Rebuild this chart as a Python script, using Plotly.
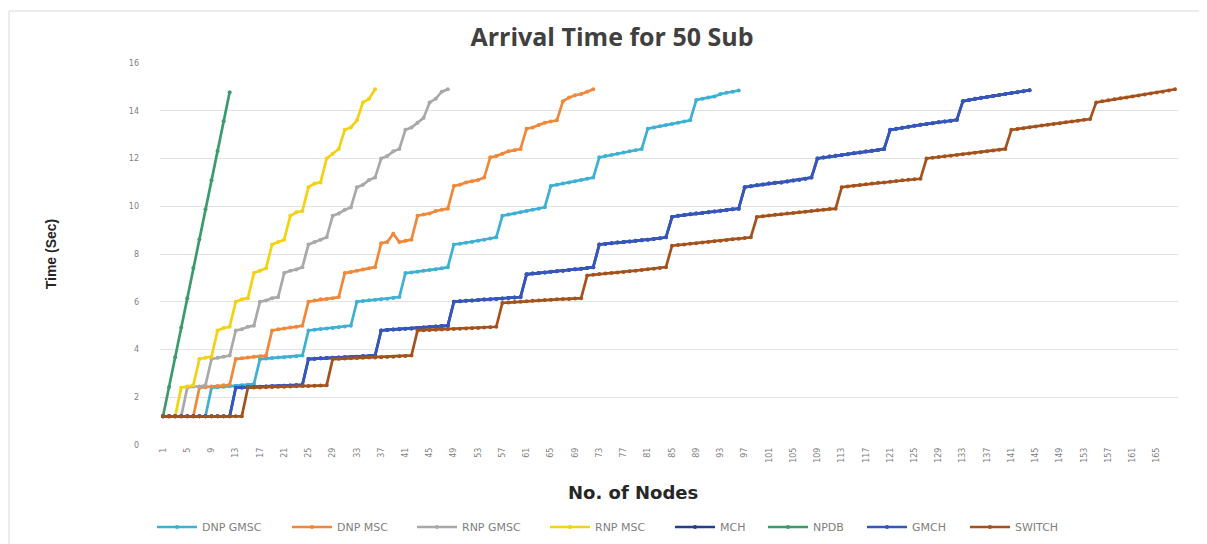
import plotly.graph_objects as go

# ---------------- data ----------------
series_names = ["DNP GMSC", "DNP MSC", "RNP GMSC", "RNP MSC", "MCH", "NPDB", "GMCH", "SWITCH"]

dnp_gmsc = [
    1.2, 1.2, 1.2, 1.2, 1.2, 1.2, 1.2, 1.2,
    2.4, 2.42, 2.44, 2.46, 2.48, 2.5, 2.52, 2.55,
    3.6, 3.62, 3.64, 3.66, 3.68, 3.7, 3.72, 3.75,
    4.8, 4.83, 4.86, 4.88, 4.9, 4.93, 4.96, 5.0,
    6.0, 6.03, 6.06, 6.08, 6.1, 6.13, 6.16, 6.2,
    7.2, 7.23, 7.26, 7.3, 7.33, 7.36, 7.4, 7.45,
    8.4, 8.43, 8.47, 8.5, 8.55, 8.6, 8.65, 8.7,
    9.6, 9.65, 9.7, 9.75, 9.8, 9.85, 9.9, 9.96,
    10.85, 10.9, 10.95, 11.0, 11.05, 11.1, 11.15, 11.2,
    12.05, 12.1, 12.15, 12.2, 12.25, 12.3, 12.35, 12.4,
    13.25, 13.3, 13.35, 13.4, 13.45, 13.5, 13.55, 13.6,
    14.45, 14.5, 14.55, 14.6, 14.7, 14.75, 14.8, 14.85,
]

dnp_msc = [
    1.2, 1.2, 1.2, 1.2, 1.2, 1.2,
    2.4, 2.42, 2.45, 2.47, 2.5, 2.52,
    3.6, 3.63, 3.66, 3.7, 3.72, 3.75,
    4.8, 4.85, 4.88, 4.92, 4.95, 5.0,
    6.0, 6.05, 6.1, 6.12, 6.15, 6.2,
    7.2, 7.25, 7.3, 7.35, 7.4, 7.45,
    8.45, 8.5, 8.85, 8.5, 8.55, 8.6,
    9.6, 9.65, 9.7, 9.8, 9.85, 9.9,
    10.85, 10.9, 11.0, 11.05, 11.1, 11.2,
    12.05, 12.1, 12.2, 12.3, 12.35, 12.4,
    13.25, 13.3, 13.4, 13.5, 13.55, 13.6,
    14.4, 14.55, 14.65, 14.7, 14.8, 14.9,
]

rnp_gmsc = [
    1.2, 1.2, 1.2, 1.2,
    2.4, 2.45, 2.45, 2.5,
    3.6, 3.65, 3.7, 3.75,
    4.8, 4.85, 4.95, 5.0,
    6.0, 6.05, 6.15, 6.2,
    7.2, 7.3, 7.35, 7.45,
    8.4, 8.5, 8.6, 8.7,
    9.6, 9.7, 9.85, 9.95,
    10.8, 10.9, 11.1, 11.2,
    12.0, 12.1, 12.3, 12.4,
    13.2, 13.3, 13.5, 13.7,
    14.35, 14.5, 14.8, 14.9,
]

rnp_msc = [
    1.2, 1.2, 1.2,
    2.4, 2.45, 2.5,
    3.6, 3.65, 3.7,
    4.8, 4.9, 4.95,
    6.0, 6.1, 6.15,
    7.2, 7.3, 7.4,
    8.4, 8.5, 8.6,
    9.6, 9.75, 9.8,
    10.8, 10.95, 11.0,
    12.0, 12.2, 12.4,
    13.2, 13.3, 13.6,
    14.35, 14.5, 14.9,
]

npdb = [1.2, 2.43, 3.68, 4.92, 6.15, 7.41, 8.62, 9.87, 11.09, 12.31, 13.56, 14.78]

gmch = [
    1.2, 1.2, 1.2, 1.2, 1.2, 1.2, 1.2, 1.2, 1.2, 1.2, 1.2, 1.2,
    2.4, 2.41, 2.42, 2.43, 2.44, 2.45, 2.46, 2.47, 2.48, 2.49, 2.5, 2.52,
    3.6, 3.61, 3.63, 3.64, 3.65, 3.66, 3.68, 3.69, 3.7, 3.72, 3.73, 3.75,
    4.8, 4.82, 4.84, 4.85, 4.87, 4.88, 4.9, 4.92, 4.94, 4.96, 4.98, 5.0,
    6.0, 6.02, 6.04, 6.05, 6.07, 6.09, 6.1, 6.12, 6.14, 6.16, 6.18, 6.2,
    7.15, 7.18, 7.2, 7.23, 7.26, 7.28, 7.3, 7.33, 7.36, 7.38, 7.41, 7.45,
    8.4, 8.42, 8.45, 8.48, 8.5, 8.52, 8.55, 8.58, 8.6, 8.63, 8.66, 8.7,
    9.55, 9.6, 9.63, 9.66, 9.7, 9.72, 9.75, 9.78, 9.81, 9.84, 9.87, 9.9,
    10.8, 10.84, 10.88, 10.91, 10.95, 10.98, 11.0, 11.04, 11.08, 11.11, 11.15, 11.2,
    12.0, 12.04, 12.08, 12.11, 12.15, 12.18, 12.22, 12.25, 12.29, 12.32, 12.36, 12.4,
    13.2, 13.25, 13.29, 13.33, 13.37, 13.41, 13.45, 13.48, 13.52, 13.55, 13.58, 13.62,
    14.4, 14.45, 14.5, 14.54, 14.58, 14.62, 14.66, 14.7, 14.74, 14.78, 14.82, 14.86,
]

# MCH is hidden under GMCH in the reference (the two series coincide)
mch = list(gmch)

switch = [
    1.2, 1.2, 1.2, 1.2, 1.2, 1.2, 1.2, 1.2, 1.2, 1.2, 1.2, 1.2, 1.2, 1.2,
    2.4, 2.41, 2.41, 2.42, 2.43, 2.44, 2.44, 2.45, 2.46, 2.47, 2.47, 2.48, 2.49, 2.5,
    3.6, 3.61, 3.62, 3.63, 3.64, 3.65, 3.66, 3.67, 3.68, 3.69, 3.7, 3.72, 3.73, 3.75,
    4.8, 4.81, 4.82, 4.83, 4.84, 4.85, 4.86, 4.87, 4.88, 4.89, 4.9, 4.92, 4.93, 4.95,
    5.95, 5.97, 5.99, 6.0, 6.02, 6.04, 6.05, 6.07, 6.08, 6.1, 6.11, 6.12, 6.14, 6.15,
    7.1, 7.13, 7.16, 7.18, 7.2, 7.23, 7.25, 7.28, 7.3, 7.33, 7.36, 7.38, 7.41, 7.45,
    8.35, 8.38, 8.4, 8.43, 8.45, 8.48, 8.5, 8.53, 8.56, 8.59, 8.62, 8.64, 8.67, 8.7,
    9.55, 9.58, 9.61, 9.64, 9.67, 9.7, 9.72, 9.75, 9.77, 9.8, 9.83, 9.85, 9.88, 9.9,
    10.8, 10.83, 10.86, 10.89, 10.92, 10.95, 10.98, 11.0, 11.03, 11.06, 11.09, 11.11, 11.13, 11.15,
    12.0, 12.03, 12.06, 12.09, 12.12, 12.15, 12.18, 12.21, 12.24, 12.27, 12.3, 12.33, 12.37, 12.4,
    13.2, 13.24, 13.27, 13.31, 13.34, 13.38, 13.41, 13.45, 13.48, 13.52, 13.55, 13.58, 13.62, 13.65,
    14.35, 14.4, 14.44, 14.48, 14.52, 14.56, 14.6, 14.64, 14.68, 14.72, 14.76, 14.8, 14.85, 14.9,
]

series_values = [dnp_gmsc, dnp_msc, rnp_gmsc, rnp_msc, mch, npdb, gmch, switch]
n_categories = 168
x_tick_labels = [str(v) for v in range(1, n_categories + 1, 4)]
y_tick_values = [0, 2, 4, 6, 8, 10, 12, 14, 16]

# ---------------- styling ----------------
colors = ["#3DB0D4", "#F0883A", "#A9A9A9", "#F3D214", "#263E8E", "#3C9B6B", "#3557BC", "#A4521C"]
legend_px = [157, 292, 417, 550, 675, 768, 867, 970]   # page x of each legend sample start

OFF = 8                      # page offset of the figure (HTML body margin)
W, H = 1207 - OFF, 544 - OFF
PLOT_L, PLOT_R, PLOT_T, PLOT_B = 160, 1178, 63, 445   # plot area in page pixels
plot_w = PLOT_R - PLOT_L
plot_h = PLOT_B - PLOT_T
margin = dict(l=PLOT_L - OFF, r=W - (PLOT_R - OFF), t=PLOT_T - OFF, b=H - (PLOT_B - OFF), autoexpand=False)


def px_to_paper_x(px):
    return (px - PLOT_L) / plot_w


def py_to_paper_y(py):
    return (PLOT_B - py) / plot_h


fig = go.Figure()
for i, (name, vals, col) in enumerate(zip(series_names, series_values, colors)):
    leg = "legend" if i == 0 else f"legend{i + 1}"
    fig.add_trace(go.Scatter(
        x=list(range(1, len(vals) + 1)),
        y=vals,
        name=name,
        mode="lines+markers",
        line=dict(color=col, width=2.7),
        marker=dict(color=col, size=4),
        legend=leg,
        showlegend=True,
    ))

layout_legends = {}
for i, px in enumerate(legend_px):
    key = "legend" if i == 0 else f"legend{i + 1}"
    layout_legends[key] = dict(
        x=px_to_paper_x(px - 5), y=py_to_paper_y(527),
        xanchor="left", yanchor="middle",
        orientation="h", bgcolor="rgba(0,0,0,0)", itemwidth=40,
        font=dict(family="DejaVu Sans", size=11, color="#7F7F7F"),
    )

fig.update_layout(
    width=W, height=H,
    showlegend=True,
    margin=margin,
    paper_bgcolor="white", plot_bgcolor="white",
    title=dict(
        text="Arrival Time for 50 Sub",
        x=(612 - OFF) / W, xanchor="center", y=1 - (37 - OFF) / H, yanchor="middle",
        xref="container", yref="container",
        font=dict(family="Open Sans", size=25, color="#404040", weight="bold"),
    ),
    xaxis=dict(
        range=[0.5, n_categories + 0.5],
        tickmode="array",
        tickvals=list(range(1, n_categories + 1, 4)),
        ticktext=x_tick_labels,
        tickangle=-90,
        tickfont=dict(family="DejaVu Sans", size=8, color="#7F7F7F"),
        showgrid=False, zeroline=False,
        showline=False, ticks="",
    ),
    yaxis=dict(
        range=[0, 16],
        tickvals=y_tick_values,
        tickfont=dict(family="DejaVu Sans", size=8, color="#7F7F7F"),
        showgrid=True, gridcolor="#E3E3E3", gridwidth=1,
        zeroline=False, showline=False, ticks="",
        ticklabelstandoff=20,
        title=dict(
            text="Time (Sec)", standoff=68,
            font=dict(family="Liberation Sans", size=14, color="#262626", weight="bold"),
        ),
    ),
    annotations=[dict(
        text="No. of Nodes", xref="paper", yref="paper",
        x=px_to_paper_x(633), y=py_to_paper_y(492),
        xanchor="center", yanchor="middle", showarrow=False,
        font=dict(family="DejaVu Sans", size=18, color="#262626", weight="bold"),
    )],
    shapes=[dict(
        type="rect", xref="paper", yref="paper",
        x0=px_to_paper_x(9), x1=px_to_paper_x(1201),
        y0=py_to_paper_y(560), y1=py_to_paper_y(11),
        line=dict(color="#D9D9D9", width=1), fillcolor="rgba(0,0,0,0)", layer="below",
    )],
    **layout_legends,
)

fig.write_html("out.html")
